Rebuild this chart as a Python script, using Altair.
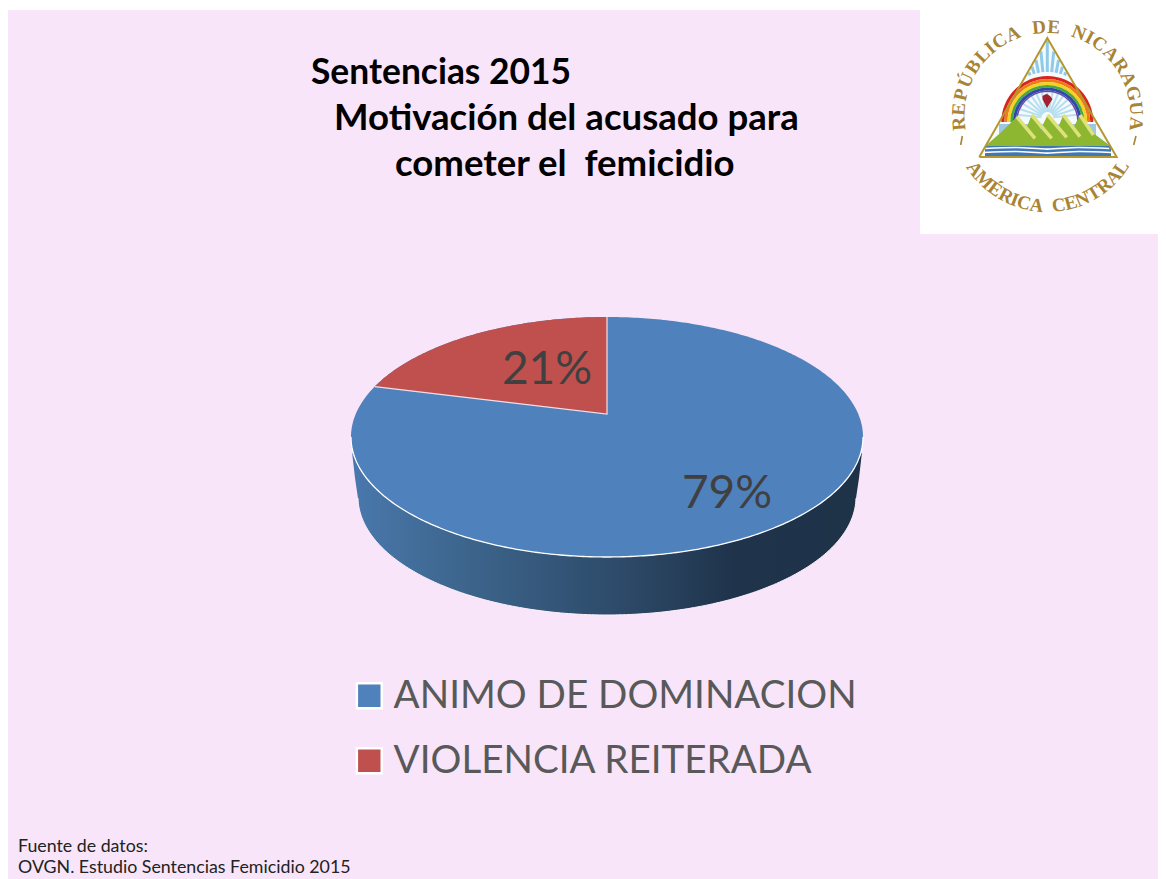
import math
import numpy as np
import pandas as pd
import altair as alt

# ---- data
categories = ["ANIMO DE DOMINACION", "VIOLENCIA REITERADA"]
shares = [79, 21]
pie_colors = ["#4f81bd", "#c0504d"]
title_lines = ["Sentencias 2015", "Motivación del acusado para", "cometer el\u00a0\u00a0femicidio"]
title_x = [311, 334, 395]
title_y = [84, 130, 176]
title_sizes = [35.4, 36.6, 36.6]
source_lines = ["Fuente de datos:", "OVGN. Estudio Sentencias Femicidio 2015"]
source_y = [852, 873]
label_x = [727, 547]
label_y = [494, 370]

# ---- image-pixel scales
xs = alt.Scale(domain=[8, 1158], nice=False, zero=False)
ys = alt.Scale(domain=[879, 8], nice=False, zero=False)
X = lambda f="x": alt.X(f"{f}:Q", scale=xs, axis=None)
Y = lambda f="y": alt.Y(f"{f}:Q", scale=ys, axis=None)
Y2 = lambda f="y2": alt.Y2(f"{f}:Q")
X2 = lambda f="x2": alt.X2(f"{f}:Q")

# ---- pie geometry: perspective projection of a circle, driven by the shares
CX, CY, RX, RY = 607.0, 437.0, 256.0, 120.0
APEX_Y, PA, PK, PB = 414.0, 115.6, 46 / 240, 251.2


def project(share):
    t = 2 * math.pi * share / 100.0
    u, v = math.sin(t), math.cos(t)
    d = 1 + PK * v
    return CX + PB * u / d, APEX_Y - PA * v / d


def ell(x, cy=CY, rx=RX, ry=RY, sign=1):
    return cy + sign * ry * np.sqrt(np.clip(1 - ((x - CX) / rx) ** 2, 0, 1))


grid = CX + RX * np.sin(np.linspace(-math.pi / 2, math.pi / 2, 241))
wedge_x, wedge_y = project(100 - shares[1])

top_df = pd.DataFrame({"x": grid, "y": ell(grid, sign=-1), "y2": ell(grid), "slice": categories[0]})

rx_g = grid[(grid >= wedge_x) & (grid <= CX)]
rx_g = np.concatenate([[wedge_x], rx_g, [CX]])
edge = wedge_y + (rx_g - wedge_x) / (CX - wedge_x) * (APEX_Y - wedge_y)
red_df = pd.DataFrame({"x": rx_g, "y": ell(rx_g, sign=-1), "y2": edge, "slice": categories[1]})
red_df.loc[red_df.index[-1], "y"] = 317.0

RX2, CY2, RY2 = 249.0, 497.0, 118.0
sg = np.concatenate([[352, 355], CX + RX2 * np.sin(np.linspace(-math.pi / 2 + .01, math.pi / 2 - .01, 201)), [859, 862]])
low = ell(sg, CY2, RX2, RY2)
low[0], low[1] = 452, 478
low[-2], low[-1] = 478, 452
side_df = pd.DataFrame({"x": sg, "y": ell(sg), "y2": low})
side_df.loc[[0, len(side_df) - 1], "y"] = 452

side = alt.Chart(side_df).mark_area(
    color=alt.Gradient(gradient="linear", x1=0, x2=1, y1=0, y2=0, stops=[
        alt.GradientStop(color="#4a78ad", offset=0),
        alt.GradientStop(color="#3e678f", offset=0.2),
        alt.GradientStop(color="#2c4866", offset=0.55),
        alt.GradientStop(color="#1f334b", offset=0.75),
        alt.GradientStop(color="#1e3248", offset=1),
    ])
).encode(x=X(), y=Y(), y2=Y2())

color_scale = alt.Scale(domain=categories, range=pie_colors)
color = alt.Color("slice:N", scale=color_scale, legend=alt.Legend(
    orient="none", legendX=342, legendY=668.5, title=None, symbolType="square", symbolSize=620,
    symbolStrokeColor="white", symbolStrokeWidth=2.5, labelFont="Lato", labelFontSize=38.6,
    labelColor="#595959", labelLimit=700, rowPadding=26, labelOffset=5, padding=0))
top = alt.Chart(top_df).mark_area().encode(x=X(), y=Y(), y2=Y2(), color=color)
red = alt.Chart(red_df).mark_area().encode(x=X(), y=Y(), y2=Y2(), color=alt.Color("slice:N", scale=color_scale, legend=None))

edge_df = pd.DataFrame({"x": [wedge_x, CX, CX], "y": [wedge_y, APEX_Y, 317.0], "o": [0, 1, 2]})
edges = alt.Chart(edge_df).mark_line(color="#f3dfe6", strokeWidth=1.2).encode(x=X(), y=Y(), order="o:O")
rim_df = pd.DataFrame({"x": grid, "y": ell(grid)})
rim = alt.Chart(rim_df).mark_line(color="white", strokeWidth=1.3).encode(x=X(), y=Y(), order="x:Q")
low_df = side_df.iloc[2:-2]
rim2 = alt.Chart(low_df).mark_line(color="#fdf3fb", strokeWidth=1).encode(x=X(), y=Y("y2"), order="x:Q")

labels_df = pd.DataFrame({"x": label_x, "y": label_y, "t": [f"{s}%" for s in shares]})
labels = alt.Chart(labels_df).mark_text(font="Lato", fontSize=46, color="#404040", align="center", baseline="middle").encode(x=X(), y=Y(), text="t:N")

title_df = pd.DataFrame({"x": title_x, "y": title_y, "t": title_lines, "s": title_sizes})
titles = alt.Chart(title_df).mark_text(font="Lato", fontWeight="bold", color="#000000", align="left", baseline="alphabetic").encode(
    x=X(), y=Y(), text="t:N", size=alt.Size("s:Q", scale=None, legend=None))
src_df = pd.DataFrame({"x": [18, 18], "y": source_y, "t": source_lines})
source = alt.Chart(src_df).mark_text(font="Lato", fontSize=17.8, color="#222222", align="left", baseline="alphabetic").encode(x=X(), y=Y(), text="t:N")

# ---- pink sheet, white corner panel + emblem
sheet = alt.Chart(pd.DataFrame({"x": [8], "x2": [1158], "y": [10], "y2": [879]})).mark_rect(color="#f8e5f9").encode(x=X(), x2=X2(), y=Y(), y2=Y2())
white = alt.Chart(pd.DataFrame({"x": [920], "x2": [1158], "y": [8], "y2": [234]})).mark_rect(color="white").encode(x=X(), x2=X2(), y=Y(), y2=Y2())


def z(p):
    return 920 + p[0] / 3, p[1] / 3


GOLD = "#a88434"
LCX, LCY = 1047.5, 116.0


def ring(text, a0, a1, radius, bottom=False):
    wid = {"I": .5, " ": .75, "M": 1.25, "L": .9, "E": .9}
    w = [wid.get(c, 1.0) for c in text]
    cum = np.cumsum(w) - np.array(w) / 2
    cum = (cum - cum[0]) / (cum[-1] - cum[0])
    rows = []
    for c, f in zip(text, cum):
        a = a0 + (a1 - a0) * f
        r = math.radians(a)
        if bottom:
            rows.append({"x": LCX + radius * math.sin(r), "y": LCY + radius * math.cos(r), "c": c, "rot": (-a) % 360})
        else:
            rows.append({"x": LCX + radius * math.sin(r), "y": LCY - radius * math.cos(r), "c": c, "rot": a % 360})
    return rows


ring_df = pd.DataFrame(ring("REPÚBLICA DE NICARAGUA", -95, 95, 89) + ring("AMÉRICA CENTRAL", -54, 55, 90, True))
ring_df = ring_df[ring_df.c != " "]
rings = alt.Chart(ring_df).mark_text(font="Liberation Serif", fontSize=19, fontWeight="bold", color=GOLD, baseline="middle", align="center").encode(
    x=X(), y=Y(), text="c:N", angle=alt.Angle("rot:Q", scale=None))

dash_df = pd.DataFrame({"x": [z((127, 408))[0], z((122, 435))[0], z((648, 408))[0], z((641, 435))[0]],
                        "y": [136, 145, 136, 145], "d": [0, 0, 1, 1]})
dashes = alt.Chart(dash_df).mark_line(color=GOLD, strokeWidth=1.6).encode(x=X(), y=Y(), detail="d:N")

tri_df = pd.DataFrame({"x": [979.3, 1047.3, 1116.7], "y": [157, 38, 157], "y2": [157, 157, 157]})
tri_fill = alt.Chart(tri_df).mark_area(color="#f4fafd").encode(x=X(), y=Y(), y2=Y2())
tri_line_df = pd.DataFrame({"x": [979.3, 1047.3, 1116.7, 979.3], "y": [157, 38, 157, 157], "o": [0, 1, 2, 3]})
tri_line = alt.Chart(tri_line_df).mark_line(color="#b6972f", strokeWidth=2).encode(x=X(), y=Y(), order="o:O")

# rays above the rainbow, ending on the triangle's sides
ox, oy = 1047.3, 118.0
r_rows = []
for a in [-22, -16.5, -11, -5.5, 0, 5.5, 11, 16.5, 22]:
    t = math.radians(a)
    end = 80 * .577 / (math.sin(abs(t)) + .577 * math.cos(t)) * .97
    r_rows.append({"x": ox + 46 * math.sin(t), "y": oy - 46 * math.cos(t), "x2": ox + end * math.sin(t), "y2": oy - end * math.cos(t)})
top_rays = alt.Chart(pd.DataFrame(r_rows)).mark_rule(color="#8fcbe9", strokeWidth=3).encode(x=X(), y=Y(), x2=X2(), y2=Y2())
r_rows = []
for a in range(-84, 85, 12):
    t = math.radians(a)
    r_rows.append({"x": ox + 6 * math.sin(t), "y": oy - 6 * math.cos(t), "x2": ox + 30 * math.sin(t), "y2": oy - 30 * math.cos(t)})
in_rays = alt.Chart(pd.DataFrame(r_rows)).mark_rule(color="#b5dff0", strokeWidth=2).encode(x=X(), y=Y(), x2=X2(), y2=Y2())

bands = [(46, 43, "#d8261c"), (43, 40, "#ee7a1a"), (40, 37, "#f4d21f"), (37, 34.5, "#4aa83a"), (34.5, 31.5, "#2f49a8"), (31.5, 30, "#6a4aa5")]
rainbow = [alt.Chart(pd.DataFrame({"x": [ox], "y": [oy + 4]})).mark_arc(
    radius=a, radius2=b, theta=3 * math.pi / 2, theta2=5 * math.pi / 2, color=c).encode(x=X(), y=Y()) for a, b, c in bands]

cap_df = pd.DataFrame({"x": [1042.5, 1045, 1047, 1050, 1052.5], "y": [96, 94.5, 94, 96, 99], "y2": [99, 104, 108, 103, 99]})
cap = alt.Chart(cap_df).mark_area(color="#a3202c").encode(x=X(), y=Y(), y2=Y2())

sea = alt.Chart(pd.DataFrame({"x": [999], "x2": [1096], "y": [124], "y2": [136]})).mark_rect(color="#9fc6df").encode(x=X(), x2=X2(), y=Y(), y2=Y2())

profile = [(196, 438), (245, 395), (290, 350), (318, 388), (335, 345), (362, 388), (383, 345), (412, 388), (430, 345), (458, 388), (480, 345), (510, 392), (572, 438)]
pp = [z(p) for p in profile]
green_df = pd.DataFrame({"x": [p[0] for p in pp], "y": [p[1] for p in pp], "y2": [146] * len(pp)})
green = alt.Chart(green_df).mark_area(color="#8db731").encode(x=X(), y=Y(), y2=Y2())
ridge_rows = []
for i, (a, b) in enumerate([((290, 350), (345, 415)), ((335, 345), (395, 415)), ((383, 345), (440, 412)), ((430, 345), (480, 410)), ((480, 345), (520, 405))]):
    for p in (a, b):
        q = z(p)
        ridge_rows.append({"x": q[0], "y": q[1], "d": i})
ridges = alt.Chart(pd.DataFrame(ridge_rows)).mark_line(color="#dde27a", strokeWidth=3.5).encode(x=X(), y=Y(), detail="d:N")

water_rows = []
for d, (yy, half) in enumerate([(148.5, 62), (152.5, 64)]):
    for xv, off in [(-1, 0), (-.5, -1), (0, .6), (.5, -1), (1, 0)]:
        water_rows.append({"x": ox + xv * half, "y": yy + off, "d": d})
water_band = alt.Chart(pd.DataFrame({"x": [985], "x2": [1111], "y": [146], "y2": [156]})).mark_rect(color="#3f78b5").encode(x=X(), x2=X2(), y=Y(), y2=Y2())
water = alt.Chart(pd.DataFrame(water_rows)).mark_line(color="white", strokeWidth=1.6, interpolate="monotone").encode(x=X(), y=Y(), detail="d:N")

chart = alt.layer(
    sheet, white, titles, source, side, top, red, edges, rim, rim2, labels,
    rings, dashes, tri_fill, top_rays, in_rays, *rainbow, cap, sea, green, ridges, water_band, water, tri_line,
).properties(
    width=1150, height=871, padding=0, background="white",
    autosize=alt.AutoSizeParams(type="none"),
).configure_view(stroke=None)

chart.save("out.html", embed_options={"renderer": "svg", "actions": False})
